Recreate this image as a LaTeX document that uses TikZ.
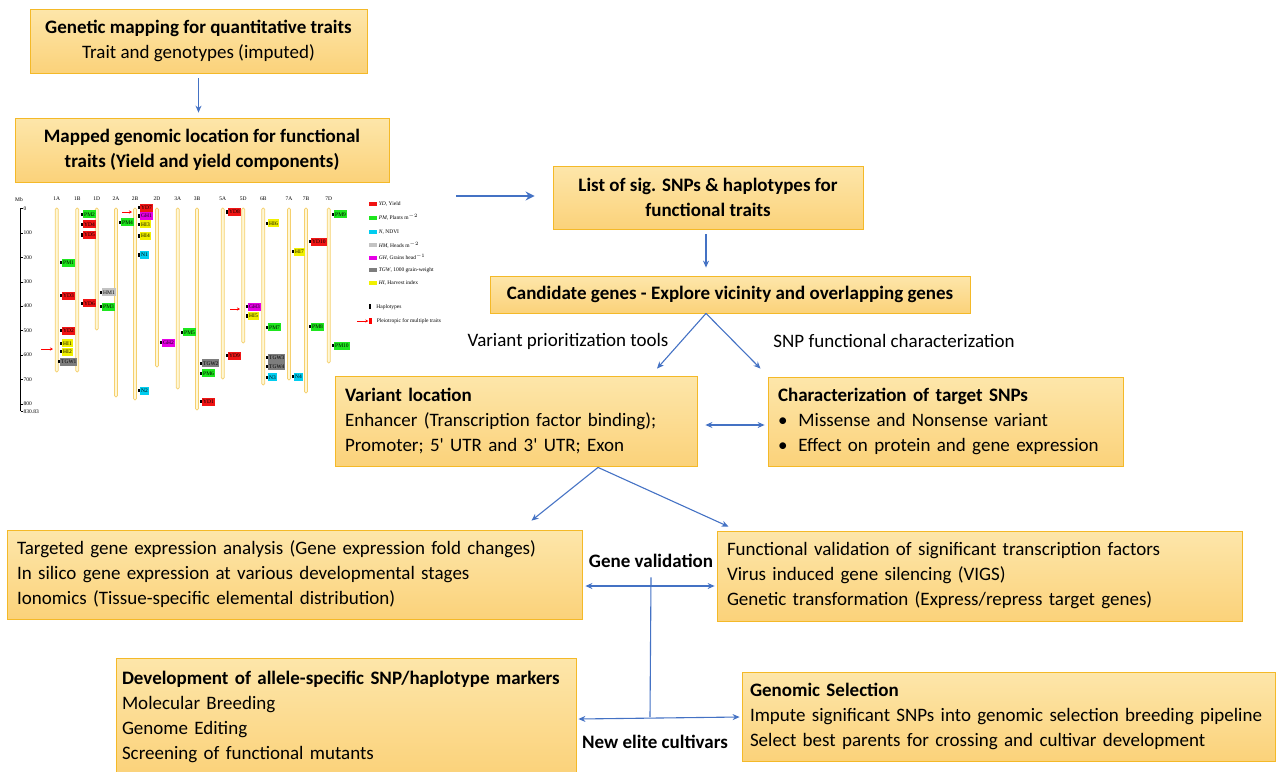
\documentclass[tikz,border=0pt]{standalone}
\usepackage{fontspec}
\setmainfont{Carlito}
\newfontfamily\mapfont{Liberation Serif}
\usetikzlibrary{arrows.meta,positioning}

\definecolor{boxtop}{RGB}{253,230,170}
\definecolor{boxbot}{RGB}{251,210,122}
\definecolor{boxline}{RGB}{244,185,40}
\definecolor{arrowblue}{RGB}{68,114,196}
\definecolor{ydred}{RGB}{240,20,20}
\definecolor{pmgreen}{RGB}{30,230,30}
\definecolor{ncyan}{RGB}{0,205,240}
\definecolor{hmgray}{RGB}{195,195,195}
\definecolor{ghmag}{RGB}{230,0,230}
\definecolor{tgwgray}{RGB}{125,125,125}
\definecolor{hiyel}{RGB}{240,240,0}
\definecolor{chromfill}{RGB}{255,247,214}
\definecolor{chromline}{RGB}{245,208,110}

\tikzset{
  stepbox/.style={draw=boxline, line width=0.8pt, top color=boxtop, bottom color=boxbot,
    inner xsep=10pt, inner ysep=0pt, font=\fontsize{19}{25}\selectfont},
  flow/.style={draw=arrowblue, line width=1.1pt, -{Stealth[length=7pt,width=6pt]}},
  twoway/.style={flow, {Stealth[length=7pt,width=6pt]}-{Stealth[length=7pt,width=6pt]}},
  note/.style={font=\fontsize{19}{22}\selectfont},
  chrom/.style={draw=chromline, fill=chromfill, line width=0.7pt, rounded corners=1.4pt},
  chr/.style={font=\mapfont\fontsize{5.5}{6}\selectfont, inner sep=0pt},
  hap/.style={fill=black, inner sep=0pt, minimum width=2pt, minimum height=3.5pt},
  mk/.style={anchor=west, inner xsep=1pt, inner ysep=0.5pt, minimum height=8pt,
    font=\mapfont\fontsize{5.5}{5.5}\selectfont, label={[hap]180:{}}},
  tick/.style={right, inner sep=0.5pt, font=\mapfont\fontsize{5.5}{5.5}\selectfont},
  legbox/.style={inner sep=0pt, minimum width=8pt, minimum height=4pt},
  legtext/.style={inner sep=0pt, font=\mapfont\fontsize{5.5}{5.5}\selectfont},
  pleio/.style={draw=red, line width=0.8pt, -{Stealth[length=3pt,width=3pt]}}
}

\begin{document}
\begin{tikzpicture}[x=1pt, y=-1pt]
	\useasboundingbox (0,0) rectangle (1276,771);

	% flow boxes
	\node[stepbox, minimum width=337pt, minimum height=64pt, align=center] (gen) at (198.5,41)
		{\textbf{Genetic mapping for quantitative traits}\\Trait and genotypes (imputed)};
	\node[stepbox, minimum width=374pt, minimum height=64pt, align=center] (mapped) at (202,150)
		{\textbf{Mapped genomic location for functional}\\\textbf{traits (Yield and yield components)}};
	\node[stepbox, minimum width=310pt, minimum height=63pt, align=center] (snps) at (708,197.5)
		{\textbf{List of sig. SNPs \& haplotypes for}\\\textbf{functional traits}};
	\node[stepbox, minimum width=480pt, minimum height=37pt] (cand) at (730,294.5)
		{\textbf{Candidate genes - Explore vicinity and overlapping genes}};
	\node[stepbox, text width=342pt, minimum height=90pt, align=left] (varloc) at (516,421)
		{\textbf{Variant location}\\Enhancer (Transcription factor binding);\\Promoter; 5\textquotesingle{} UTR and 3\textquotesingle{} UTR; Exon};
	\node[stepbox, text width=335pt, minimum height=89pt, align=left] (charsnp) at (945.5,421.5)
		{\textbf{Characterization of target SNPs}\\\textbullet\hspace{11pt}Missense and Nonsense variant\\\textbullet\hspace{11pt}Effect on protein and gene expression};
	\node[stepbox, text width=555pt, minimum height=89pt, align=left] (targ) at (294.5,574.5)
		{Targeted gene expression analysis (Gene expression fold changes)\\In silico gene expression at various developmental stages\\Ionomics (Tissue-specific elemental distribution)};
	\node[stepbox, text width=505pt, minimum height=90pt, align=left] (funcval) at (979.5,576)
		{Functional validation of significant transcription factors\\Virus induced gene silencing (VIGS)\\Genetic transformation (Express/repress target genes)};
	\node[stepbox, inner xsep=6pt, text width=448pt, minimum height=117pt, align=left] (devel) at (346,716.5)
		{\textbf{Development of allele-specific SNP/haplotype markers}\\Molecular Breeding\\Genome Editing\\Screening of functional mutants};
	\node[stepbox, inner xsep=8pt, text width=517pt, minimum height=89pt, align=left] (gensel) at (1008.5,716.5)
		{\textbf{Genomic Selection}\\Impute significant SNPs into genomic selection breeding pipeline\\Select best parents for crossing and cultivar development};

	\node[note] (vpt) at (568,341) {Variant prioritization tools};
	\node[note] (sfc) at (894,341) {SNP functional characterization};
	\node[note, font=\bfseries\fontsize{19}{22}\selectfont] (geneval) at (651,561) {Gene validation};
	\node[note, font=\bfseries\fontsize{19}{22}\selectfont] (elite) at (655,742) {New elite cultivars};
	\coordinate (mapout) at (456,196);
	\coordinate (hub) at (650,717);

	% connectors
	\draw[flow, shorten <=5pt, shorten >=5pt] (gen.south) -- (gen.south |- mapped.north);
	\draw[flow, line width=2.6pt, -{Stealth[length=9pt,width=9pt]}, shorten >=18pt] (mapout) -- (snps.west |- mapout);
	\draw[flow, shorten <=5pt, shorten >=8pt] ([xshift=-2pt]snps.south) -- ([xshift=-2pt]snps.south |- cand.north);
	\draw[flow] ([xshift=-24pt]cand.south) -- ([xshift=141pt,yshift=7pt]varloc.north);
	\draw[flow] ([xshift=-24pt]cand.south) -- ([xshift=-185pt,yshift=8pt]charsnp.north);
	\draw[twoway] ([shift={(8pt,-4pt)}]varloc.east) -- ([shift={(-3pt,-3.5pt)}]charsnp.west);
	\draw[flow] ([xshift=82pt,yshift=-1pt]varloc.south) -- ([xshift=237pt,yshift=9pt]targ.north);
	\draw[flow] ([xshift=82pt,yshift=-1pt]varloc.south) -- ([xshift=-251pt,yshift=4pt]funcval.north);
	\draw[twoway] ([shift={(3pt,-11.5pt)}]targ.east) -- ([shift={(-2pt,-10pt)}]funcval.west);
	\draw[draw=arrowblue, line width=1.1pt] ([yshift=-6pt]geneval.south) -- (hub);
	\draw[twoway] ([shift={(2pt,-2.5pt)}]devel.east) -- ([shift={(-2pt,-0.5pt)}]gensel.west);

	% chromosome map
	\node[chr] (mb) at (19,200) {Mb};
	\draw[line width=0.5pt] (20.5,208.3) -- (20.5,411.4);
	\draw[line width=0.4pt] (20.5,208.3) -- ++(2.5,0) node[tick] {0};
	\draw[line width=0.4pt] (20.5,232.8) -- ++(2.5,0) node[tick] {100};
	\draw[line width=0.4pt] (20.5,257.2) -- ++(2.5,0) node[tick] {200};
	\draw[line width=0.4pt] (20.5,281.7) -- ++(2.5,0) node[tick] {300};
	\draw[line width=0.4pt] (20.5,306.1) -- ++(2.5,0) node[tick] {400};
	\draw[line width=0.4pt] (20.5,330.6) -- ++(2.5,0) node[tick] {500};
	\draw[line width=0.4pt] (20.5,355.0) -- ++(2.5,0) node[tick] {600};
	\draw[line width=0.4pt] (20.5,379.5) -- ++(2.5,0) node[tick] {700};
	\draw[line width=0.4pt] (20.5,403.9) -- ++(2.5,0) node[tick] {800};
	\draw[line width=0.4pt] (20.5,411.4) -- ++(2.5,0) node[tick] {830.83};

	\draw[chrom] (55.2,208) rectangle (58.2,372); \node[chr] (c1a) at (56.7,199) {1A};
	\draw[chrom] (75.8,208) rectangle (78.8,372); \node[chr] (c1b) at (77.3,199) {1B};
	\draw[chrom] (95.2,208) rectangle (98.2,330); \node[chr] (c1d) at (96.7,199) {1D};
	\draw[chrom] (114.5,208) rectangle (117.5,397); \node[chr] (c2a) at (116,199) {2A};
	\draw[chrom] (133.5,208) rectangle (136.5,400); \node[chr] (c2b) at (135,199) {2B};
	\draw[chrom] (155.5,208) rectangle (158.5,367); \node[chr] (c2d) at (157,199) {2D};
	\draw[chrom] (176.2,208) rectangle (179.2,389); \node[chr] (c3a) at (177.7,199) {3A};
	\draw[chrom] (195.5,208) rectangle (198.5,410); \node[chr] (c3b) at (197,199) {3B};
	\draw[chrom] (221.2,208) rectangle (224.2,379); \node[chr] (c5a) at (222.7,199) {5A};
	\draw[chrom] (241.8,208) rectangle (244.8,343); \node[chr] (c5d) at (243.3,199) {5D};
	\draw[chrom] (261.8,208) rectangle (264.8,385); \node[chr] (c6b) at (263.3,199) {6B};
	\draw[chrom] (287.5,208) rectangle (290.5,380); \node[chr] (c7a) at (289,199) {7A};
	\draw[chrom] (304.5,208) rectangle (307.5,393); \node[chr] (c7b) at (306,199) {7B};
	\draw[chrom] (327.2,208) rectangle (330.2,363); \node[chr] (c7d) at (328.7,199) {7D};

	\node[mk, fill=pmgreen] (pm1) at (62,262.7) {PM1};
	\node[mk, fill=ydred] (yd3) at (62,295.7) {YD3};
	\node[mk, fill=ydred] (yd2) at (62,330.7) {YD2};
	\node[mk, fill=hiyel] (hi1) at (62,343.3) {HI1};
	\node[mk, fill=hiyel] (hi2) at (62,351.7) {HI2};
	\node[mk, fill=tgwgray] (tgw1) at (60,361.7) {TGW1};
	\node[mk, fill=pmgreen] (pm2) at (83,214.3) {PM2};
	\node[mk, fill=ydred] (yd4) at (83,224.3) {YD4};
	\node[mk, fill=ydred] (yd5) at (83,235) {YD5};
	\node[mk, fill=ydred] (yd6) at (83,303.3) {YD6};
	\node[mk, fill=hmgray] (hm1) at (102,292.3) {HM1};
	\node[mk, fill=pmgreen] (pm3) at (102,306.7) {PM3};
	\node[mk, fill=pmgreen] (pm4) at (121,222.3) {PM4};
	\node[mk, fill=ydred] (yd7) at (140,207.7) {YD7};
	\node[mk, fill=ghmag] (gh1) at (140,216) {GH1};
	\node[mk, fill=hiyel] (hi3) at (140,224.3) {HI3};
	\node[mk, fill=hiyel] (hi4) at (140,236) {HI4};
	\node[mk, fill=ncyan] (n1) at (140,255) {N1};
	\node[mk, fill=ncyan] (n2) at (140,390.7) {N2};
	\node[mk, fill=ghmag] (gh2) at (162,342.7) {GH2};
	\node[mk, fill=pmgreen] (pm5) at (183,332.3) {PM5};
	\node[mk, fill=tgwgray] (tgw2) at (202,363.3) {TGW2};
	\node[mk, fill=pmgreen] (pm6) at (202,373.3) {PM6};
	\node[mk, fill=ydred] (yd1) at (202,401.7) {YD1};
	\node[mk, fill=ydred] (yd8) at (228,212) {YD8};
	\node[mk, fill=ydred] (yd9) at (228,355.7) {YD9};
	\node[mk, fill=ghmag] (gh3) at (248,306.7) {GH3};
	\node[mk, fill=hiyel] (hi5) at (248,316) {HI5};
	\node[mk, fill=hiyel] (hi6) at (268,223.3) {HI6};
	\node[mk, fill=pmgreen] (pm7) at (268,327.3) {PM7};
	\node[mk, fill=tgwgray] (tgw3) at (268,357.7) {TGW3};
	\node[mk, fill=tgwgray] (tgw4) at (268,366.3) {TGW4};
	\node[mk, fill=ncyan] (n3) at (268,377.3) {N3};
	\node[mk, fill=hiyel] (hi7) at (294,251.7) {HI7};
	\node[mk, fill=ncyan] (n4) at (294,376.7) {N4};
	\node[mk, fill=ydred] (yd10) at (311,241.7) {YD10};
	\node[mk, fill=pmgreen] (pm8) at (311,326.7) {PM8};
	\node[mk, fill=pmgreen] (pm9) at (334,214.3) {PM9};
	\node[mk, fill=pmgreen] (pm10) at (334,345.7) {PM10};
	\draw[pleio] (41,349) -- (53,349);
	\draw[pleio] (122,212) -- (132,212);
	\draw[pleio] (230,309) -- (240,309);

	% legend
	\node[legbox, fill=ydred] (lyd) at (372.5,204.3) {};
	\node[legtext, right=2pt of lyd] {\textit{YD}, Yield};
	\node[legbox, fill=pmgreen] (lpm) at (372.5,217.7) {};
	\node[legtext, right=2pt of lpm] {\textit{PM}, Plants m$^{-2}$};
	\node[legbox, fill=ncyan] (ln) at (372.5,231.7) {};
	\node[legtext, right=2pt of ln] {\textit{N}, NDVI};
	\node[legbox, fill=hmgray] (lhm) at (372.5,245) {};
	\node[legtext, right=2pt of lhm] {\textit{HM}, Heads m$^{-2}$};
	\node[legbox, fill=ghmag] (lgh) at (372.5,257.7) {};
	\node[legtext, right=2pt of lgh] {\textit{GH}, Grains head$^{-1}$};
	\node[legbox, fill=tgwgray] (ltgw) at (372.5,270) {};
	\node[legtext, right=2pt of ltgw] {\textit{TGW}, 1000 grain-weight};
	\node[legbox, fill=hiyel] (lhi) at (372.5,282.7) {};
	\node[legtext, right=2pt of lhi] {\textit{HI}, Harvest index};
	\node[hap, minimum height=5pt] (lhap) at (370,306.7) {};
	\node[legtext, right=5pt of lhap] {Haplotypes};
	\node[legbox, fill=red, minimum width=3pt, minimum height=6pt] (lpl) at (370,321) {};
	\node[legtext, right=5pt of lpl] {Pleiotropic for multiple traits};
	\draw[pleio] (357,321) -- (lpl.west);
\end{tikzpicture}
\end{document}
